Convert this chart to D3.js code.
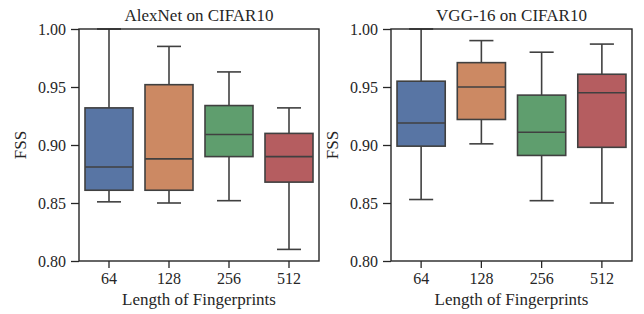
<!DOCTYPE html>
<html>
<head>
<meta charset="utf-8">
<script src="https://cdn.jsdelivr.net/npm/d3@7"></script>
<style>
  body { margin: 0; background: #fff; }
  svg text { font-family: "Liberation Serif", "Times New Roman", serif; fill: #262626; }
</style>
</head>
<body>
<svg id="chart" width="644" height="314"></svg>
<script>
const lengths = ["64", "128", "256", "512"];
const boxColors = ["#5875a4", "#cc8963", "#5f9e6e", "#b55d60"];
const yTicks = [0.80, 0.85, 0.90, 0.95, 1.00];

// [low whisker, Q1, median, Q3, high whisker]
const alexnetStats = [
  [0.851, 0.861, 0.881, 0.932, 1.000],
  [0.850, 0.861, 0.888, 0.952, 0.985],
  [0.852, 0.890, 0.909, 0.934, 0.963],
  [0.810, 0.868, 0.890, 0.910, 0.932]
];
const vggStats = [
  [0.853, 0.899, 0.919, 0.955, 1.000],
  [0.901, 0.922, 0.950, 0.971, 0.990],
  [0.852, 0.891, 0.911, 0.943, 0.980],
  [0.850, 0.898, 0.945, 0.961, 0.987]
];

const panels = [
  { title: "AlexNet on CIFAR10", stats: alexnetStats, left: 79, right: 319 },
  { title: "VGG-16 on CIFAR10", stats: vggStats, left: 391, right: 632 }
];

const svg = d3.select("#chart");
const plotTop = 29;
const plotBottom = 261;
const lineColor = "#404040";

panels.forEach(panel => {
  const x = d3.scaleBand().domain(lengths).range([panel.left, panel.right]).padding(0);
  const y = d3.scaleLinear().domain([0.8, 1.0]).range([plotBottom, plotTop]);
  const g = svg.append("g");

  const boxW = x.bandwidth() * 0.8;
  const capW = boxW / 2;

  const boxes = g.selectAll("g.box")
    .data(panel.stats.map((s, i) => ({ key: lengths[i], s, color: boxColors[i] })))
    .join("g")
    .attr("class", "box");

  boxes.each(function (d) {
    const b = d3.select(this);
    const cx = x(d.key) + x.bandwidth() / 2;
    const [lo, q1, med, q3, hi] = d.s;
    const seg = (x1, y1, x2, y2) => b.append("line")
      .attr("x1", x1).attr("y1", y1).attr("x2", x2).attr("y2", y2)
      .attr("stroke", lineColor).attr("stroke-width", 1.6);
    seg(cx, y(q3), cx, y(hi));
    seg(cx, y(q1), cx, y(lo));
    seg(cx - capW / 2, y(hi), cx + capW / 2, y(hi));
    seg(cx - capW / 2, y(lo), cx + capW / 2, y(lo));
    b.append("rect")
      .attr("x", cx - boxW / 2)
      .attr("y", y(q3))
      .attr("width", boxW)
      .attr("height", y(q1) - y(q3))
      .attr("fill", d.color)
      .attr("stroke", lineColor)
      .attr("stroke-width", 1.6);
    seg(cx - boxW / 2, y(med), cx + boxW / 2, y(med));
  });

  // frame
  g.append("rect")
    .attr("x", panel.left).attr("y", plotTop)
    .attr("width", panel.right - panel.left)
    .attr("height", plotBottom - plotTop)
    .attr("fill", "none")
    .attr("stroke", "#262626")
    .attr("stroke-width", 1.4);

  const yAxis = g.append("g")
    .attr("transform", `translate(${panel.left},0)`)
    .call(d3.axisLeft(y).tickValues(yTicks).tickFormat(d3.format(".2f")).tickSize(8).tickPadding(5));
  const xAxis = g.append("g")
    .attr("transform", `translate(0,${plotBottom})`)
    .call(d3.axisBottom(x).tickSize(7).tickPadding(5));

  [yAxis, xAxis].forEach(ax => {
    ax.attr("font-family", null).attr("font-size", null);
    ax.select(".domain").remove();
    ax.selectAll("line").attr("stroke", "#262626").attr("stroke-width", 1.3);
    ax.selectAll("text")
      .attr("font-size", 16)
      .attr("fill", "#262626");
  });

  const cx = (panel.left + panel.right) / 2;
  g.append("text")
    .attr("x", cx).attr("y", 21)
    .attr("text-anchor", "middle")
    .attr("font-size", 17)
    .text(panel.title);

  g.append("text")
    .attr("x", cx).attr("y", 305)
    .attr("text-anchor", "middle")
    .attr("font-size", 17)
    .text("Length of Fingerprints");

  g.append("text")
    .attr("transform", `translate(${panel.left - 53},${(plotTop + plotBottom) / 2}) rotate(-90)`)
    .attr("text-anchor", "middle")
    .attr("font-size", 17)
    .text("FSS");
});
</script>
</body>
</html>
